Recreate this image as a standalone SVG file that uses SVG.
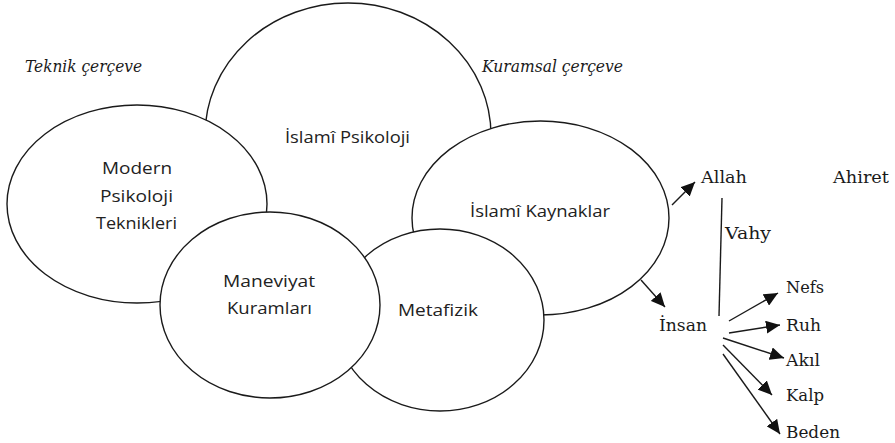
<svg xmlns="http://www.w3.org/2000/svg" width="895" height="443" viewBox="0 0 895 443">
<style>
.e{fill:#fff;stroke:#1a1a1a;stroke-width:1.4}
.c{font-family:"Open Sans","Liberation Sans",sans-serif;font-size:16px;fill:#222}
.s{font-family:"DejaVu Serif","Liberation Serif",serif;font-size:17.5px;fill:#1a1a1a}
.i{font-family:"DejaVu Serif","Liberation Serif",serif;font-size:16px;font-style:italic;fill:#1a1a1a}
.l{stroke:#1a1a1a;stroke-width:1.4;fill:none}
</style>
<defs>
<marker id="ah" markerUnits="userSpaceOnUse" markerWidth="15" markerHeight="13" refX="14" refY="6.5" orient="auto">
<path d="M0,0 L14,6.5 L0,13 Z" fill="#111"/>
</marker>
</defs>
<text class="i" x="25" y="72" textLength="117" lengthAdjust="spacingAndGlyphs">Teknik çerçeve</text>
<text class="i" x="482" y="72" textLength="141" lengthAdjust="spacingAndGlyphs">Kuramsal çerçeve</text>
<g id="islami-psikoloji">
<ellipse class="e" cx="348" cy="135" rx="143" ry="132"/>
<text class="c" x="285" y="143" textLength="125" lengthAdjust="spacingAndGlyphs">İslamî Psikoloji</text>
</g>
<g id="modern">
<ellipse class="e" cx="137" cy="204" rx="130" ry="99"/>
<text class="c" x="102" y="174" textLength="70" lengthAdjust="spacingAndGlyphs">Modern</text>
<text class="c" x="100" y="202" textLength="73" lengthAdjust="spacingAndGlyphs">Psikoloji</text>
<text class="c" x="96" y="229" textLength="81" lengthAdjust="spacingAndGlyphs">Teknikleri</text>
</g>
<g id="islami-kaynaklar">
<ellipse class="e" cx="540.5" cy="218" rx="128.5" ry="97"/>
<text class="c" x="470" y="217" textLength="140" lengthAdjust="spacingAndGlyphs">İslamî Kaynaklar</text>
</g>
<g id="metafizik">
<ellipse class="e" cx="440" cy="320" rx="104" ry="91"/>
<text class="c" x="398" y="316" textLength="80" lengthAdjust="spacingAndGlyphs">Metafizik</text>
</g>
<g id="maneviyat">
<ellipse class="e" cx="270" cy="305" rx="110" ry="93"/>
<text class="c" x="223" y="287" textLength="92" lengthAdjust="spacingAndGlyphs">Maneviyat</text>
<text class="c" x="227" y="314" textLength="85" lengthAdjust="spacingAndGlyphs">Kuramları</text>
</g>
<g id="allah"><text class="s" x="701" y="183" textLength="46" lengthAdjust="spacingAndGlyphs">Allah</text></g>
<g id="ahiret"><text class="s" x="833" y="183" textLength="56" lengthAdjust="spacingAndGlyphs">Ahiret</text></g>
<g id="insan"><text class="s" x="659" y="331" textLength="48" lengthAdjust="spacingAndGlyphs">İnsan</text></g>
<g id="nefs"><text class="s" x="786" y="293" textLength="38" lengthAdjust="spacingAndGlyphs">Nefs</text></g>
<g id="ruh"><text class="s" x="786" y="331" textLength="35" lengthAdjust="spacingAndGlyphs">Ruh</text></g>
<g id="akil"><text class="s" x="786" y="366" textLength="34" lengthAdjust="spacingAndGlyphs">Akıl</text></g>
<g id="kalp"><text class="s" x="786" y="401" textLength="38" lengthAdjust="spacingAndGlyphs">Kalp</text></g>
<g id="beden"><text class="s" x="786" y="438" textLength="54" lengthAdjust="spacingAndGlyphs">Beden</text></g>
<g id="connectors">
<line class="l" x1="672" y1="205" x2="695" y2="182" marker-end="url(#ah)"/>
<line class="l" x1="641" y1="280" x2="665" y2="307" marker-end="url(#ah)"/>
<line class="l" x1="722" y1="198" x2="719" y2="316"/>
<text class="s" x="725" y="239" textLength="46" lengthAdjust="spacingAndGlyphs">Vahy</text>
<line class="l" x1="729" y1="321" x2="778" y2="293" marker-end="url(#ah)"/>
<line class="l" x1="729" y1="333" x2="780" y2="325" marker-end="url(#ah)"/>
<line class="l" x1="723" y1="338" x2="784" y2="358" marker-end="url(#ah)"/>
<line class="l" x1="723" y1="345" x2="772" y2="395" marker-end="url(#ah)"/>
<line class="l" x1="723" y1="354" x2="780" y2="434" marker-end="url(#ah)"/>
</g>
</svg>
